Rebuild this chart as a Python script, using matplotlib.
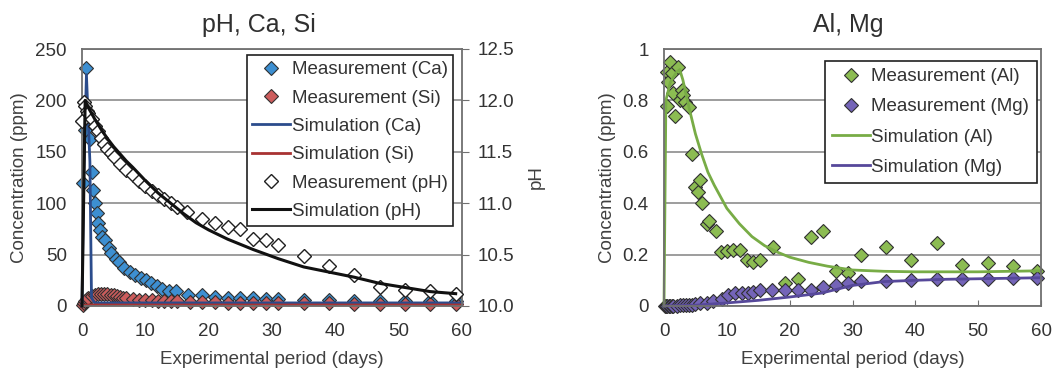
import matplotlib
matplotlib.use("Agg")
import matplotlib.pyplot as plt
from matplotlib.ticker import FuncFormatter

plt.rcParams['font.family'] = ['Liberation Sans', 'DejaVu Sans']
plt.rcParams['text.color'] = '#333333'

# --- left chart: pH, Ca, Si ---
ca_days = [0.2, 0.4, 0.6, 1.25, 1.5, 1.7, 2.0, 2.3, 2.6, 2.9, 3.2, 3.6, 4.2, 4.6, 5.4, 5.9,
           6.7, 7.5, 8.3, 9.3, 10.1, 10.9, 11.9, 12.7, 13.8, 14.9, 16.8, 19, 21, 23, 25, 27,
           29, 31, 35, 39, 43, 47, 51, 55, 59]
ca_meas = [120, 171, 232, 162, 130, 113, 100, 90, 81, 74, 67, 64, 56, 52, 46, 43,
           37, 33, 30, 27, 25, 22, 19, 17, 15, 15, 11, 11, 9, 8, 8, 8,
           7, 7, 6, 6, 5, 5, 5, 5, 5]

si_days = [0.1, 0.3, 0.5, 0.75, 1, 1.5, 2, 2.5, 3, 3.5, 4, 4.5, 5, 5.5, 6, 6.5, 7, 8, 9, 10,
           11, 12, 13, 14, 15, 17, 19, 21, 23, 25, 27, 29, 31, 35, 39, 43, 47, 51, 55, 59]
si_meas = [1, 3, 5, 7, 8, 10, 11, 12, 12, 12, 12, 11, 11, 10, 9, 8, 8, 7, 6, 6,
           6, 5, 5, 5, 5, 4, 4, 4, 3, 3, 3, 3, 3, 3, 3, 2, 2, 2, 2, 2]

ph_days = [0, 0.25, 0.5, 0.75, 1, 1.5, 2, 2.5, 3, 3.5, 4, 4.5, 5, 6, 7, 8, 9, 10, 11, 12,
           13, 14, 15, 16.5, 19, 21, 23, 25, 27, 29, 31, 35, 39, 43, 47, 51, 55, 59]
ph_meas = [11.8, 11.98, 11.95, 11.9, 11.88, 11.82, 11.75, 11.7, 11.63, 11.58, 11.53, 11.49,
           11.45, 11.38, 11.32, 11.27, 11.22, 11.17, 11.12, 11.08, 11.04, 11.0, 10.96, 10.91,
           10.85, 10.81, 10.77, 10.75, 10.65, 10.64, 10.59, 10.49, 10.39, 10.3, 10.18, 10.16,
           10.15, 10.12]

ca_sim_days = [0, 0.25, 0.7, 1.25, 1.5, 2, 60]
ca_sim = [0, 120, 225, 140, 8, 3, 3]
si_sim_days = [0, 1, 60]
si_sim = [0, 1, 1]
ph_sim_days = [0, 0.5, 1, 2, 3, 4, 5, 6, 7, 8, 10, 12, 14, 16, 18, 20, 23, 27, 31, 35, 39,
               43, 47, 51, 55, 59]
ph_sim = [10.0, 12.0, 11.93, 11.82, 11.72, 11.63, 11.55, 11.48, 11.41, 11.35, 11.22, 11.1,
          11.0, 10.9, 10.81, 10.74, 10.65, 10.55, 10.46, 10.38, 10.33, 10.28, 10.22, 10.18,
          10.14, 10.12]

# --- right chart: Al, Mg ---
al_days = [0.4, 0.4, 0.65, 1.0, 1.2, 1.5, 1.75, 2.2, 2.6, 2.8, 3.1, 3.35, 3.9, 4.4, 4.95,
           5.4, 5.7, 6.0, 6.8, 7.2, 8.3, 9.0, 10.0, 11.0, 12.1, 13.2, 14.2, 15.2, 17.3, 19.3,
           21.4, 23.4, 25.3, 27.4, 29.3, 31.4, 35.4, 39.3, 43.5, 47.5, 51.5, 55.5, 59.4]
al_meas = [0.78, 0.91, 0.87, 0.95, 0.905, 0.83, 0.74, 0.93, 0.80, 0.84, 0.82, 0.795, 0.775,
           0.59, 0.464, 0.445, 0.49, 0.40, 0.32, 0.33, 0.29, 0.21, 0.215, 0.218, 0.218, 0.18,
           0.17, 0.18, 0.23, 0.09, 0.105, 0.27, 0.29, 0.136, 0.128, 0.20, 0.23, 0.18, 0.245,
           0.16, 0.166, 0.156, 0.137]

mg_days = [0.1, 0.25, 0.5, 0.75, 1, 1.25, 1.5, 2, 2.5, 3, 3.5, 4, 4.5, 5, 5.7, 6.8, 7.8, 9.2,
           10.2, 11.3, 12.4, 13.4, 14.2, 15.3, 17.2, 19.3, 21.4, 23.4, 25.3, 27.3, 29.3, 31.3,
           35.4, 39.3, 43.5, 47.5, 51.5, 55.5, 59.4]
mg_meas = [0, 0, 0, 0, 0, 0, 0.001, 0.001, 0.002, 0.002, 0.003, 0.004, 0.005, 0.008, 0.01,
           0.013, 0.02, 0.027, 0.043, 0.05, 0.052, 0.05, 0.054, 0.062, 0.064, 0.064, 0.064,
           0.064, 0.072, 0.082, 0.09, 0.098, 0.098, 0.1, 0.104, 0.104, 0.104, 0.11, 0.11]

al_sim_days = [0, 0.3, 1, 2, 2.5, 3, 4, 5, 6, 7, 8, 10, 12, 14, 16, 18, 20, 23, 26, 30, 35,
               40, 50, 60]
al_sim = [0, 0.8, 0.87, 0.91, 0.92, 0.88, 0.77, 0.67, 0.59, 0.52, 0.47, 0.38, 0.32, 0.27,
          0.235, 0.21, 0.19, 0.17, 0.155, 0.14, 0.135, 0.133, 0.133, 0.137]
mg_sim_days = [0, 5, 10, 15, 20, 25, 30, 35, 40, 45, 50, 55, 60]
mg_sim = [0, 0.003, 0.012, 0.022, 0.035, 0.05, 0.08, 0.095, 0.1, 0.104, 0.106, 0.108, 0.11]

FS = 13.5
TXT = '#333333'
W, H = 1063, 370
fig = plt.figure(figsize=(W / 100, H / 100), dpi=100)
ax1 = fig.add_axes([82 / W, 1 - 306 / H, 380 / W, 257 / H])
ax2 = fig.add_axes([664 / W, 1 - 306 / H, 377 / W, 257 / H])

mk = dict(marker='D', markersize=7, markeredgecolor='#303030', markeredgewidth=0.8,
          linestyle='none')


def style(ax):
    ax.set_xlim(0, 60)
    ax.set_xticks(range(0, 61, 10))
    ax.grid(axis='y', color='#8c8c8c', linewidth=1.2)
    ax.set_axisbelow(True)
    for s in ax.spines.values():
        s.set_color('#707070')
        s.set_linewidth(1.3)
    ax.tick_params(axis='x', direction='in', length=4, labelsize=FS, color='#707070', pad=12,
                   labelcolor=TXT)
    ax.tick_params(axis='y', direction='out', length=0, labelsize=FS, pad=11, labelcolor=TXT)
    ax.set_xlabel("Experimental period (days)", fontsize=FS, color='#404040', labelpad=8)
    ax.set_ylabel("Concentration (ppm)", fontsize=FS, color='#404040', labelpad=5)


# left chart
style(ax1)
ax1.set_ylim(0, 250)
ax1.set_yticks(range(0, 251, 50))
axp = ax1.twinx()
axp.set_ylim(10.0, 12.5)
axp.set_yticks([10.0, 10.5, 11.0, 11.5, 12.0, 12.5])
axp.yaxis.set_major_formatter(FuncFormatter(lambda v, p: f"{v:.1f}"))
axp.tick_params(axis='y', direction='out', length=5, labelsize=FS, color='#707070', pad=6,
                labelcolor=TXT)
for s in axp.spines.values():
    s.set_visible(False)
axp.set_ylabel("pH", fontsize=FS, color='#404040', labelpad=10)

h1, = ax1.plot(ca_days, ca_meas, markerfacecolor='#3d8fd1', label='Measurement (Ca)', **mk)
h2, = ax1.plot(si_days, si_meas, markerfacecolor='#cc5c5c', label='Measurement (Si)', **mk)
h3, = ax1.plot(ca_sim_days, ca_sim, color='#2b4c8c', linewidth=2, label='Simulation (Ca)')
h4, = ax1.plot(si_sim_days, si_sim, color='#a83232', linewidth=2, label='Simulation (Si)')
h5, = axp.plot(ph_days, ph_meas, marker='D', markersize=7, markerfacecolor='white',
               markeredgecolor='#202020', markeredgewidth=1.0, linestyle='none',
               label='Measurement (pH)')
h6, = axp.plot(ph_sim_days, ph_sim, color='#111111', linewidth=2.2, label='Simulation (pH)')
for h in (h1, h2, h3, h4, h5, h6):
    h.set_clip_on(False)

leg = axp.legend(handles=[h1, h2, h3, h4, h5, h6], loc='upper right',
                 bbox_to_anchor=(0.977, 0.975), borderaxespad=0, fontsize=FS,
                 fancybox=False, framealpha=1, edgecolor='#202020', handlelength=2.0,
                 handletextpad=0.1, labelspacing=0.6, borderpad=0.3)
leg.get_frame().set_linewidth(1.2)
ax1.set_title("pH, Ca, Si", fontsize=18, color='#303030', pad=12, x=0.465)

# right chart
style(ax2)
ax2.set_ylim(0, 1)
ax2.set_yticks([0, 0.2, 0.4, 0.6, 0.8, 1])
ax2.yaxis.set_major_formatter(FuncFormatter(lambda v, p: f"{v:g}"))

g1, = ax2.plot(al_days, al_meas, markerfacecolor='#8cbc52', label='Measurement (Al)', **mk)
g2, = ax2.plot(mg_days, mg_meas, markerfacecolor='#7464b8', label='Measurement (Mg)', **mk)
g3, = ax2.plot(al_sim_days, al_sim, color='#78ac46', linewidth=2, label='Simulation (Al)')
g4, = ax2.plot(mg_sim_days, mg_sim, color='#56489a', linewidth=2, label='Simulation (Mg)')
for h in (g1, g2, g3, g4):
    h.set_clip_on(False)
ax2.legend(handles=[g1, g2, g3, g4], loc='upper right', bbox_to_anchor=(0.989, 0.955),
           borderaxespad=0, fontsize=FS, fancybox=False, framealpha=1, edgecolor='#202020',
           handlelength=2.0, handletextpad=0.1, labelspacing=0.7,
           borderpad=0.4).get_frame().set_linewidth(1.2)
ax2.set_title("Al, Mg", fontsize=18, color='#303030', pad=12, x=0.49)

plt.savefig("out.png", dpi=100)
